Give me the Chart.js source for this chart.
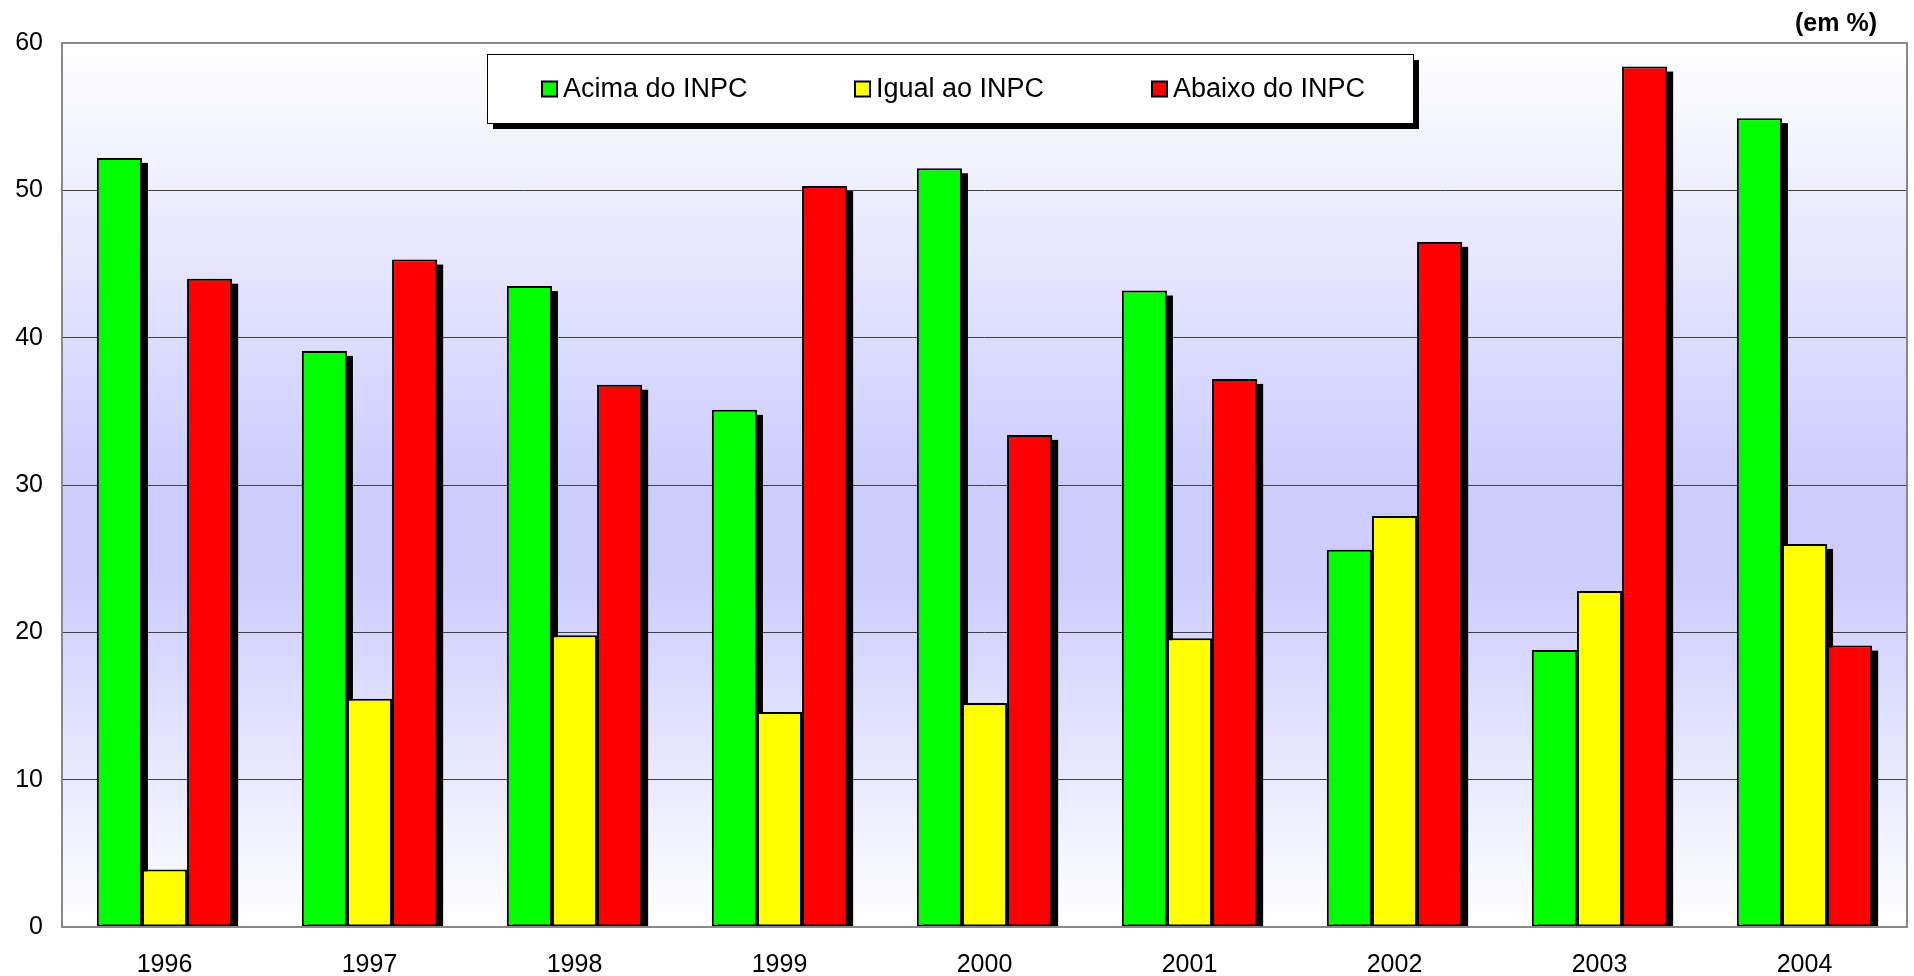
<!DOCTYPE html>
<html>
<head>
<meta charset="utf-8">
<script src="https://cdn.jsdelivr.net/npm/chart.js@4.4.1/dist/chart.umd.min.js"></script>
<style>
  html, body { margin: 0; padding: 0; background: #fff; }
  #wrap { width: 1914px; height: 976px; position: relative; }
</style>
</head>
<body>
<div id="wrap"><canvas id="chart"></canvas></div>
<script>
// dados (em %)
const anos = ['1996', '1997', '1998', '1999', '2000', '2001', '2002', '2003', '2004'];
const acima = [52.2, 39.1, 43.5, 35.1, 51.5, 43.2, 25.6, 18.8, 54.9];
const igual = [3.9, 15.5, 19.8, 14.6, 15.2, 19.6, 27.9, 22.8, 26.0];
const abaixo = [44.0, 45.3, 36.8, 50.3, 33.4, 37.2, 46.5, 58.4, 19.1];
const yTicks = [0, 10, 20, 30, 40, 50, 60];

const FONT = 'Arial, "Liberation Sans", sans-serif';

// fundo em degradê, sombras, moldura e legenda
const plotBg = {
    id: 'plotBg',
    beforeDraw(chart) {
        const { ctx, chartArea: a } = chart;
        const g = ctx.createLinearGradient(0, a.top, 0, a.bottom);
        g.addColorStop(0, '#ffffff');
        g.addColorStop(0.5, '#ccccff');
        g.addColorStop(0.6, '#ccccff');
        g.addColorStop(1, '#ffffff');
        ctx.save();
        ctx.fillStyle = g;
        ctx.fillRect(a.left, a.top, a.right - a.left, a.bottom - a.top);
        ctx.restore();
    },
    beforeDatasetsDraw(chart) {
        // sombra preta das barras
        const { ctx } = chart;
        ctx.save();
        ctx.fillStyle = '#000';
        chart.data.datasets.forEach((ds, i) => {
            chart.getDatasetMeta(i).data.forEach(el => {
                const h = el.base - el.y - 5;
                if (h > 0) ctx.fillRect(el.x - el.width / 2 + 6, el.y + 5, el.width, h);
            });
        });
        ctx.restore();
    },
    afterDraw(chart) {
        const { ctx, chartArea: a } = chart;
        ctx.save();
        ctx.strokeStyle = '#888';
        ctx.lineWidth = 2;
        ctx.strokeRect(a.left, a.top, a.right - a.left, a.bottom - a.top);

        // (em %)
        ctx.fillStyle = '#000';
        ctx.font = 'bold 25px ' + FONT;
        ctx.textAlign = 'right';
        ctx.textBaseline = 'middle';
        ctx.fillText('(em %)', 1877, 24);

        // legenda
        const bx = 487, by = 54, bw = 926, bh = 69;
        ctx.fillStyle = '#000';
        ctx.fillRect(bx + 6, by + 6, bw, bh);
        ctx.fillStyle = '#fff';
        ctx.fillRect(bx, by, bw, bh);
        ctx.strokeStyle = '#000';
        ctx.lineWidth = 1;
        ctx.strokeRect(bx + 0.5, by + 0.5, bw, bh);

        const itemX = [541, 854, 1151];
        const cy = by + bh / 2;
        ctx.font = '27px ' + FONT;
        ctx.textAlign = 'left';
        chart.data.datasets.forEach((ds, i) => {
            const x = itemX[i];
            ctx.fillStyle = '#000';
            ctx.fillRect(x, cy - 8, 17, 17);
            ctx.fillStyle = ds.backgroundColor;
            ctx.fillRect(x + 2, cy - 6, 13, 13);
            ctx.fillStyle = '#000';
            ctx.fillText(ds.label, x + 22, cy + 1);
        });
        ctx.restore();
    }
};

new Chart(document.getElementById('chart'), {
    type: 'bar',
    data: {
        labels: anos,
        datasets: [
            { label: 'Acima do INPC', data: acima, backgroundColor: '#00ff00' },
            { label: 'Igual ao INPC', data: igual, backgroundColor: '#ffff00' },
            { label: 'Abaixo do INPC', data: abaixo, backgroundColor: '#ff0000' }
        ].map(d => Object.assign(d, {
            borderColor: '#000',
            borderWidth: 2,
            borderSkipped: false,
            categoryPercentage: 0.66,
            barPercentage: 1.0
        }))
    },
    options: {
        responsive: true,
        maintainAspectRatio: false,
        animation: false,
        layout: { padding: { top: 43, right: 7, left: 0, bottom: 0 } },
        plugins: {
            legend: { display: false },
            tooltip: { enabled: false }
        },
        scales: {
            x: {
                grid: { display: false, drawTicks: false },
                border: { display: false },
                ticks: {
                    color: '#000',
                    padding: 23,
                    font: { family: FONT, size: 25 }
                },
                afterFit(scale) { scale.height = 49; }
            },
            y: {
                min: 0,
                max: 60,
                afterBuildTicks(scale) { scale.ticks = yTicks.map(v => ({ value: v })); },
                grid: { color: '#404040', lineWidth: 1, drawTicks: false },
                border: { display: false },
                ticks: {
                    color: '#000',
                    padding: 19,
                    font: { family: FONT, size: 25 }
                },
                afterFit(scale) { scale.width = 62; }
            }
        }
    },
    plugins: [plotBg]
});
</script>
</body>
</html>
